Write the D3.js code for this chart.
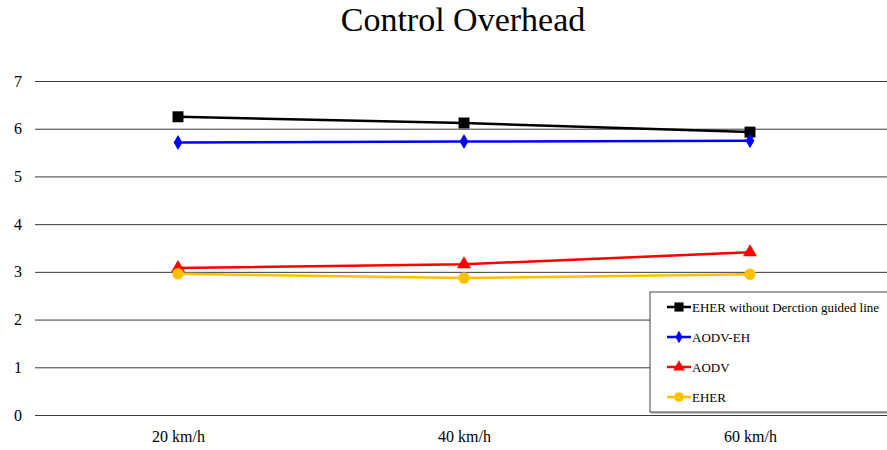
<!DOCTYPE html>
<html>
<head>
<meta charset="utf-8">
<script src="https://cdn.jsdelivr.net/npm/d3@7"></script>
<style>
  html, body { margin: 0; padding: 0; background: #fff; }
  svg { display: block; }
  svg text { font-family: "Liberation Serif", "Times New Roman", Tinos, serif !important; }
</style>
</head>
<body>
<svg id="chart" width="887" height="450"></svg>
<script>
// Speeds on the x axis
const speeds = ["20 km/h", "40 km/h", "60 km/h"];

// Control overhead per protocol
const eherNoGuide = [6.25, 6.12, 5.93];
const aodvEh = [5.71, 5.73, 5.75];
const aodv = [3.08, 3.16, 3.41];
const eher = [2.96, 2.87, 2.95];

const yTicks = [0, 1, 2, 3, 4, 5, 6, 7];

const seriesNames = ["EHER without Derction guided line", "AODV-EH", "AODV", "EHER"];
const seriesColors = ["#000000", "#0000ff", "#ff0000", "#ffc000"];
const seriesShapes = [d3.symbolSquare, d3.symbolDiamond, d3.symbolTriangle, d3.symbolCircle];
const seriesSizes = [120, 65, 85, 105];

const series = [eherNoGuide, aodvEh, aodv, eher].map((values, i) => ({
  name: seriesNames[i], color: seriesColors[i], shape: seriesShapes[i], size: seriesSizes[i], values
}));

const svg = d3.select("#chart");
const margin = { left: 35 };
const W = 887;

const x = d3.scalePoint().domain(speeds).range([178, 750]);
const y = d3.scaleLinear().domain([0, 7]).range([415, 81]);

// Title
svg.append("text")
  .attr("x", 463).attr("y", 31)
  .attr("text-anchor", "middle")
  .attr("font-size", 34)
  .attr("fill", "#000")
  .text("Control Overhead");

// Horizontal gridlines with tick labels
const yAxis = d3.axisLeft(y).tickValues(yTicks).tickFormat(d3.format("d"))
  .tickSize(-(W - margin.left)).tickPadding(13);
const gy = svg.append("g").attr("transform", `translate(${margin.left},0)`).call(yAxis);
gy.attr("font-family", null);
gy.select(".domain").remove();
gy.selectAll(".tick line").attr("stroke", "#3a3a3a").attr("stroke-width", 1);
gy.selectAll(".tick text").attr("font-size", 16).attr("fill", "#000");

// Category labels
const xAxis = d3.axisBottom(x).tickSize(0).tickPadding(0);
const gx = svg.append("g").attr("transform", "translate(0,442)").call(xAxis);
gx.attr("font-family", null);
gx.select(".domain").remove();
gx.selectAll(".tick text").attr("font-size", 16).attr("fill", "#000").attr("dy", "0");

// Lines and markers
const line = d3.line().x((d, i) => x(speeds[i])).y(d => y(d));
series.forEach(s => {
  svg.append("path")
    .attr("d", line(s.values))
    .attr("fill", "none")
    .attr("stroke", s.color)
    .attr("stroke-width", 2.5);
  svg.selectAll(null).data(s.values).enter().append("path")
    .attr("d", d3.symbol().type(s.shape).size(s.size))
    .attr("transform", (d, i) => `translate(${x(speeds[i])},${y(d)})`)
    .attr("fill", s.color);
});

// Legend
const lg = svg.append("g").attr("transform", "translate(650,292)");
lg.append("rect")
  .attr("x", 1).attr("y", 1).attr("width", 240).attr("height", 121)
  .attr("fill", "#c8c8c8");
lg.append("rect")
  .attr("x", 0).attr("y", 0).attr("width", 239).attr("height", 120)
  .attr("fill", "#fff").attr("stroke", "#444").attr("stroke-width", 1);
series.forEach((s, i) => {
  const yy = 15 + i * 30;
  lg.append("line").attr("x1", 17).attr("x2", 41).attr("y1", yy).attr("y2", yy)
    .attr("stroke", s.color).attr("stroke-width", 2.5);
  lg.append("path")
    .attr("d", d3.symbol().type(s.shape).size(s.size * 0.7))
    .attr("transform", `translate(29,${yy})`)
    .attr("fill", s.color);
  lg.append("text").attr("x", 42).attr("y", yy + 4.5)
    .attr("font-size", 13).attr("fill", "#000")
    .text(s.name);
});
</script>
</body>
</html>
